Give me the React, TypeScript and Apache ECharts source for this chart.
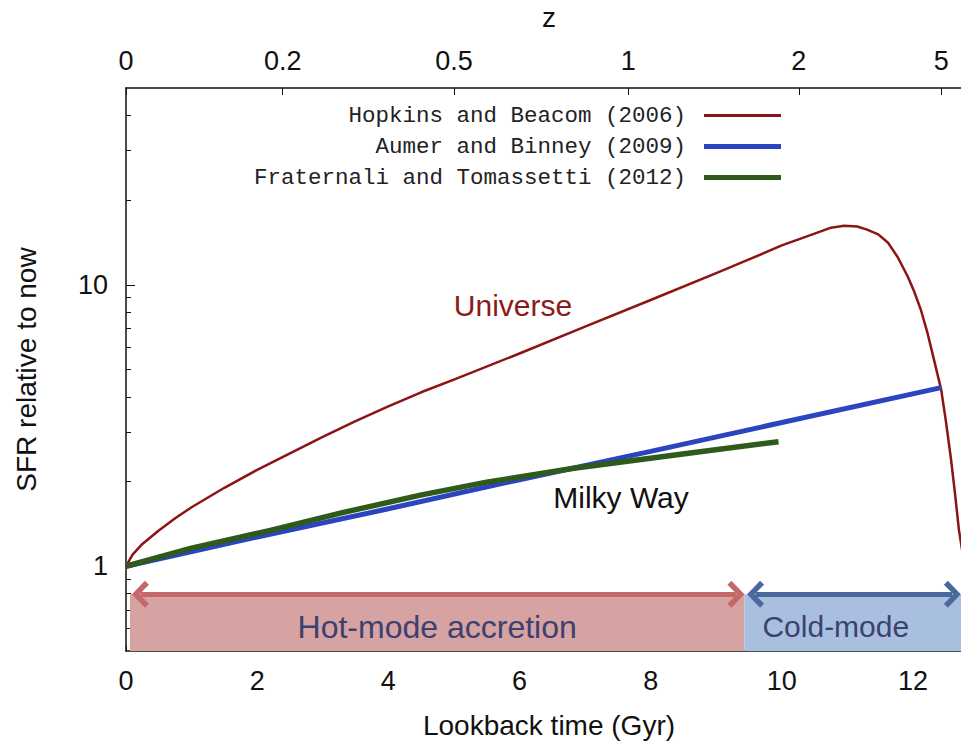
import React, { useEffect, useRef } from 'react';
import * as echarts from 'echarts';

// ---- axis ticks ----
const xTickValues = [0, 2, 4, 6, 8, 10, 12];
const zTickLabels = ['0', '0.2', '0.5', '1', '2', '5'];
const zTickTimes = [0, 2.39, 5.0, 7.66, 10.26, 12.43];
const yMajorTicks = [1, 10];
const yMinorTicks = [0.6, 0.7, 0.8, 0.9, 2, 3, 4, 5, 6, 7, 8, 9, 20, 30, 40];

// ---- series ----
const seriesNames = [
  'Hopkins and Beacom (2006)',
  'Aumer and Binney (2009)',
  'Fraternali and Tomassetti (2012)',
];
const universeTime = [0, 0.1, 0.25, 0.5, 0.75, 1, 1.5, 2, 2.5, 3, 3.5, 4, 4.5, 5, 6, 7, 8, 9, 9.5, 10, 10.5, 10.75, 10.95, 11.15, 11.3, 11.47, 11.62, 11.77, 11.92, 12.02, 12.12, 12.22, 12.32, 12.43, 12.5, 12.58, 12.64, 12.7, 12.76, 12.84, 12.9];
const universeSFR = [1, 1.1, 1.2, 1.34, 1.48, 1.62, 1.9, 2.2, 2.52, 2.88, 3.28, 3.7, 4.15, 4.6, 5.7, 7.1, 8.83, 11.0, 12.3, 13.8, 15.2, 15.95, 16.2, 16.1, 15.7, 15.1, 14.1, 12.5, 10.7, 9.44, 8.15, 6.76, 5.42, 4.24, 3.3, 2.4, 1.82, 1.35, 1.1, 0.75, 0.5];
const aumerTime = [0, 2, 4, 6, 8, 10, 12.43];
const aumerSFR = [1, 1.27, 1.6, 2.03, 2.56, 3.24, 4.31];
const fraternaliTime = [0, 1, 2.2, 3.3, 4.49, 5.5, 6.83, 8.46, 9.95];
const fraternaliSFR = [1, 1.16, 1.34, 1.55, 1.79, 1.99, 2.23, 2.5, 2.77];

// ---- accretion bands ----
const hotBand = [0.06, 9.43];
const coldBand = [9.43, 12.9];
const bandTopSFR = 0.796;
const hotArrow = [0.22, 9.3];
const coldArrow = [9.6, 12.6];

const FONT = '"Liberation Sans", Arial, Helvetica, sans-serif';
const MONO = '"Liberation Mono", "Courier New", Courier, monospace';
const colors = ['#8b1414', '#2b44c0', '#2e5a1c'];
const lineWidths = [2.5, 5, 5.5];
const legendIconHeights = [3, 5, 5];
const legendTops = [104, 135, 166];

const CHEVRON = 'path://M0,13 L13.5,0 L27,13 L23,17 L13.5,7.5 L4,17 Z';

function zip(a: number[], b: number[]) {
  return a.map((v, i) => [v, b[i]]);
}

export default function App() {
  const ref = useRef<HTMLDivElement>(null);
  useEffect(() => {
    if (!ref.current) return;
    const chart = echarts.init(ref.current, undefined, { renderer: 'svg' });
    const axisColor = '#111';
    const option: any = {
      animation: false,
      backgroundColor: '#ffffff',
      grid: { left: 126, top: 88, width: 846, height: 563, outerBoundsMode: 'none', containLabel: false },
      xAxis: [
        {
          type: 'value', position: 'bottom', min: 0, max: 12.9,
          name: 'Lookback time (Gyr)', nameLocation: 'middle', nameGap: 60,
          nameTextStyle: { fontFamily: FONT, fontSize: 28, color: axisColor },
          axisLine: { show: true, onZero: false, lineStyle: { color: axisColor, width: 1.5 } },
          axisTick: { show: true, inside: true, length: 5, customValues: xTickValues, lineStyle: { color: axisColor } },
          axisLabel: { customValues: xTickValues, margin: 16, fontFamily: FONT, fontSize: 27, color: axisColor },
          splitLine: { show: false },
        },
        {
          type: 'value', position: 'top', min: 0, max: 12.9,
          name: 'z', nameLocation: 'middle', nameGap: 57,
          nameTextStyle: { fontFamily: FONT, fontSize: 28, color: axisColor },
          axisLine: { show: true, onZero: false, lineStyle: { color: axisColor, width: 1.5 } },
          axisTick: { show: true, inside: true, length: 7, customValues: zTickTimes, lineStyle: { color: axisColor } },
          axisLabel: {
            customValues: zTickTimes, margin: 14, fontFamily: FONT, fontSize: 27, color: axisColor,
            formatter: (v: number) => {
              const i = zTickTimes.findIndex((t) => Math.abs(t - v) < 1e-6);
              return i >= 0 ? zTickLabels[i] : '';
            },
          },
          splitLine: { show: false },
        },
      ],
      yAxis: [
        {
          type: 'log', logBase: 10, min: 0.5, max: 50, position: 'left',
          name: 'SFR relative to now', nameLocation: 'middle', nameGap: 86,
          nameTextStyle: { fontFamily: FONT, fontSize: 28, color: axisColor },
          axisLine: { show: true, onZero: false, lineStyle: { color: axisColor, width: 1.5 } },
          axisTick: { show: true, inside: true, length: 9, customValues: yMajorTicks, lineStyle: { color: axisColor } },
          axisLabel: { customValues: yMajorTicks, margin: 18, fontFamily: FONT, fontSize: 27, color: axisColor },
          splitLine: { show: false },
        },
        {
          type: 'log', logBase: 10, min: 0.5, max: 50, position: 'left',
          axisLine: { show: false, onZero: false },
          axisTick: { show: true, inside: true, length: 5, customValues: yMinorTicks, lineStyle: { color: axisColor } },
          axisLabel: { show: false },
          splitLine: { show: false },
        },
      ],
      legend: seriesNames.map((name, i) => ({
        data: [{ name, icon: 'rect', itemStyle: { color: colors[i] } }],
        orient: 'vertical', align: 'right', right: 180, top: legendTops[i],
        itemWidth: 77, itemHeight: legendIconHeights[i], padding: 0,
        selectedMode: false,
        textStyle: { fontFamily: MONO, fontSize: 22.5, color: '#222', padding: [0, 13, 0, 0] },
      })),
      series: [
        {
          name: 'bands', type: 'line', data: [], z: 1, silent: true,
          xAxisIndex: 0, yAxisIndex: 0,
          markArea: {
            silent: true,
            data: [
              [
                {
                  name: 'Hot-mode accretion', coord: [hotBand[0], 0.5],
                  itemStyle: { color: '#d6a2a2', opacity: 1 },
                  label: { show: true, position: 'inside', offset: [0, 4], color: '#3b4170', fontFamily: FONT, fontSize: 32 },
                },
                { coord: [hotBand[1], bandTopSFR] },
              ],
              [
                {
                  name: 'Cold-mode', coord: [coldBand[0], 0.5],
                  itemStyle: { color: '#a9bfdf', opacity: 1 },
                  label: { show: true, position: 'insideLeft', distance: 18, offset: [0, 4], color: '#3b4170', fontFamily: FONT, fontSize: 30 },
                },
                { coord: [coldBand[1], bandTopSFR] },
              ],
            ],
          },
        },
        {
          name: 'arrows', type: 'line', data: [], z: 2, silent: true,
          xAxisIndex: 0, yAxisIndex: 0,
          markLine: {
            silent: true,
            symbol: [CHEVRON, CHEVRON],
            symbolSize: [27, 17],
            label: { show: false },
            data: [
              [
                { coord: [hotArrow[0], bandTopSFR], lineStyle: { color: '#c4686a', width: 5, type: 'solid' }, itemStyle: { color: '#c4686a' } },
                { coord: [hotArrow[1], bandTopSFR] },
              ],
              [
                { coord: [coldArrow[0], bandTopSFR], lineStyle: { color: '#4a6a9e', width: 5, type: 'solid' }, itemStyle: { color: '#4a6a9e' } },
                { coord: [coldArrow[1], bandTopSFR] },
              ],
            ],
          },
        },
        {
          name: seriesNames[0], type: 'line', z: 3, showSymbol: false,
          data: zip(universeTime, universeSFR),
          lineStyle: { color: colors[0], width: lineWidths[0], join: 'round' }, itemStyle: { color: colors[0] },
        },
        {
          name: seriesNames[1], type: 'line', z: 4, showSymbol: false,
          data: zip(aumerTime, aumerSFR),
          lineStyle: { color: colors[1], width: lineWidths[1] }, itemStyle: { color: colors[1] },
        },
        {
          name: seriesNames[2], type: 'line', z: 5, showSymbol: false,
          data: zip(fraternaliTime, fraternaliSFR),
          lineStyle: { color: colors[2], width: lineWidths[2], join: 'round' }, itemStyle: { color: colors[2] },
        },
      ],
      graphic: [
        {
          type: 'text', x: 513, y: 305, z: 10,
          style: { text: 'Universe', fill: '#8b1a1a', font: `30px ${FONT}`, align: 'center', verticalAlign: 'middle' },
        },
        {
          type: 'text', x: 621, y: 497, z: 10,
          style: { text: 'Milky Way', fill: '#111', font: `30px ${FONT}`, align: 'center', verticalAlign: 'middle' },
        },
      ],
    };
    chart.setOption(option);
    return () => chart.dispose();
  }, []);
  return (
    <div
      ref={ref}
      style={{ position: 'absolute', left: 0, top: 0, width: 961, height: 741, overflow: 'hidden', background: '#fff' }}
    />
  );
}
